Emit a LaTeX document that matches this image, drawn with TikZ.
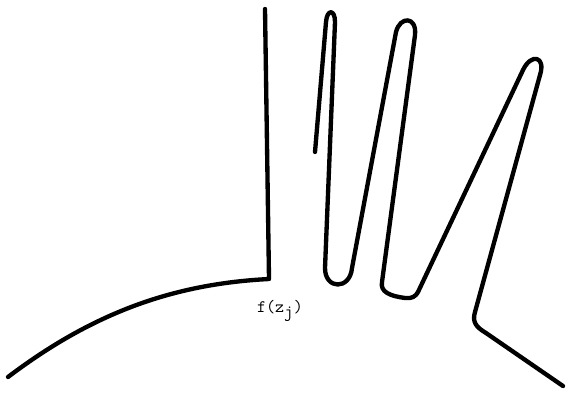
\documentclass[tikz,border=0pt]{standalone}
\usepackage{tikz}

\begin{document}
\begin{tikzpicture}[
    x=0.03cm, y=-0.03cm,
    curve/.style={line width=3.7pt, line cap=round, line join=round},
    lbl/.style={font=\fontsize{15}{17}\selectfont\ttfamily, inner sep=0pt}
]
    \useasboundingbox (0,0) rectangle (566,394);

    % image of the boundary near z_j
    \coordinate (arcstart) at (8,377);
    \coordinate (corner) at (269,279);
    \coordinate (slittop) at (265,9);
    \draw[curve] (arcstart) .. controls (90,315) and (170,284) .. (corner) -- (slittop);

    % the folded strip
    \coordinate (foldstart) at (315,152);
    \coordinate (foldend) at (563,386);
    \draw[curve] (foldstart) -- (326,22)
        .. controls (327,9) and (335,9) .. (335,22)
        -- (325,268) .. controls (325,290) and (350,290) .. (352,268)
        -- (396,32) .. controls (400,16) and (417,16) .. (415,35)
        -- (382,282) .. controls (380,292) and (390,296) .. (405,298)
        .. controls (412,299) and (416,296) .. (418,292)
        -- (523,70) .. controls (531,53) and (546,56) .. (540,75)
        -- (475,312) .. controls (472,322) and (476,327) .. (486,333)
        -- (foldend);

    \node[lbl] (fz) at (280,311) {f(z$_{\texttt{j}}$)};
\end{tikzpicture}
\end{document}
